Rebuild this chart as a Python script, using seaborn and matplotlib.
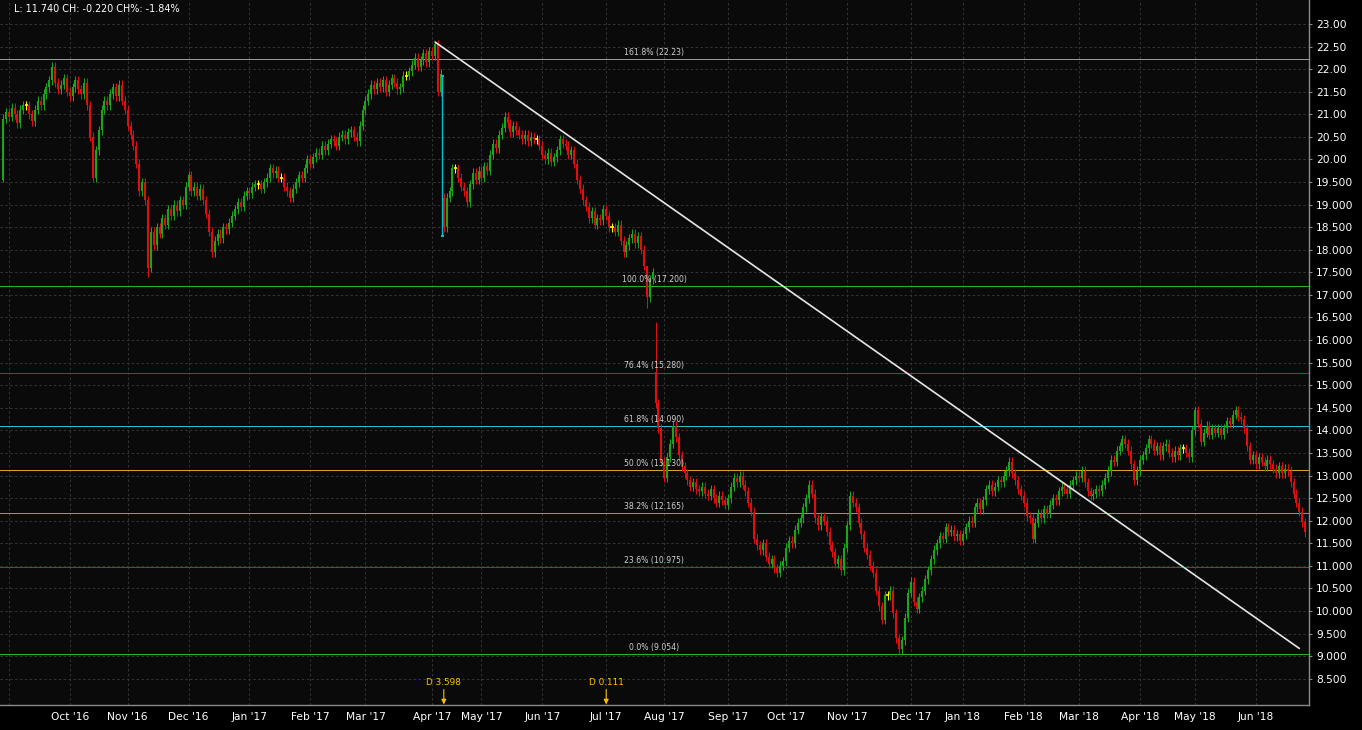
import numpy as np
import pandas as pd
import matplotlib
matplotlib.use("Agg")
import matplotlib.pyplot as plt
import seaborn as sns

# daily closes, Sep 2016 .. Jun 2018 (one value per trading day)
closes = [
    20.90, 21.05, 20.95, 21.15, 21.00, 20.80, 21.10, 21.20, 21.20, 21.00,
    20.85, 21.10, 21.30, 21.20, 21.45, 21.60, 21.75, 22.05, 21.70, 21.55,
    21.65, 21.80, 21.50, 21.40, 21.60, 21.75, 21.55, 21.45, 21.70, 21.20,
    20.50, 19.60, 20.20, 20.65, 21.10, 21.30, 21.20, 21.45, 21.60, 21.40,
    21.65, 21.30, 21.10, 20.75, 20.55, 20.30, 19.90, 19.30, 19.50, 19.10,
    17.60, 18.40, 18.10, 18.50, 18.35, 18.70, 18.55, 18.90, 18.75, 19.00,
    18.85, 19.10, 19.00, 19.40, 19.65, 19.30, 19.40, 19.20, 19.35, 19.10,
    18.80, 18.40, 17.95, 18.20, 18.35, 18.25, 18.50, 18.45, 18.60, 18.75,
    18.90, 19.05, 18.95, 19.20, 19.30, 19.25, 19.40, 19.45, 19.45, 19.35,
    19.50, 19.60, 19.80, 19.70, 19.75, 19.60, 19.60, 19.40, 19.30, 19.15,
    19.35, 19.50, 19.65, 19.60, 19.80, 20.00, 19.90, 20.05, 20.15, 20.10,
    20.30, 20.20, 20.35, 20.45, 20.40, 20.30, 20.50, 20.55, 20.45, 20.60,
    20.65, 20.50, 20.40, 20.75, 21.10, 21.30, 21.45, 21.65, 21.55, 21.70,
    21.60, 21.75, 21.50, 21.65, 21.80, 21.70, 21.55, 21.60, 21.85, 21.85,
    21.95, 22.10, 22.25, 22.05, 22.20, 22.35, 22.15, 22.40, 22.30, 22.55,
    21.50, 21.90, 18.50, 19.15, 19.30, 19.80, 19.80, 19.60, 19.40, 19.30,
    19.05, 19.45, 19.70, 19.55, 19.75, 19.60, 19.85, 19.75, 20.10, 20.35,
    20.25, 20.55, 20.70, 20.95, 20.80, 20.60, 20.75, 20.65, 20.55, 20.45,
    20.55, 20.40, 20.50, 20.45, 20.45, 20.30, 20.10, 20.00, 20.15, 19.95,
    20.05, 20.20, 20.45, 20.35, 20.30, 20.10, 20.20, 19.90, 19.55, 19.35,
    19.10, 18.95, 18.70, 18.85, 18.55, 18.70, 18.65, 18.90, 18.75, 18.50,
    18.50, 18.40, 18.55, 18.20, 17.95, 18.10, 18.25, 18.35, 18.15, 18.30,
    18.00, 17.65, 16.95, 17.35, 17.50, 14.60, 14.05, 13.30, 12.95, 13.40,
    13.70, 14.10, 13.85, 13.45, 13.20, 13.05, 12.90, 12.75, 12.85, 12.70,
    12.65, 12.75, 12.60, 12.55, 12.70, 12.50, 12.40, 12.55, 12.45, 12.35,
    12.50, 12.75, 12.95, 12.85, 13.00, 12.80, 12.65, 12.40, 12.20, 11.60,
    11.45, 11.35, 11.50, 11.20, 11.05, 11.15, 10.95, 10.85, 11.00, 11.10,
    11.40, 11.55, 11.50, 11.80, 11.95, 12.05, 12.30, 12.50, 12.80, 12.60,
    12.05, 11.90, 12.10, 12.00, 11.75, 11.45, 11.30, 11.05, 11.15, 10.90,
    11.40, 11.90, 12.55, 12.40, 12.30, 11.95, 11.70, 11.40, 11.25, 11.00,
    10.85, 10.45, 10.10, 9.80, 10.35, 10.35, 10.45, 9.95, 9.40, 9.15,
    9.35, 9.85, 10.40, 10.65, 10.20, 10.05, 10.30, 10.45, 10.70, 10.90,
    11.15, 11.35, 11.50, 11.65, 11.60, 11.85, 11.75, 11.80, 11.65, 11.70,
    11.55, 11.70, 11.85, 12.00, 11.95, 12.30, 12.40, 12.25, 12.45, 12.70,
    12.80, 12.65, 12.75, 12.90, 12.85, 13.00, 13.10, 13.30, 13.05, 12.90,
    12.70, 12.55, 12.40, 12.10, 12.05, 11.60, 11.95, 12.15, 12.05, 12.25,
    12.15, 12.35, 12.50, 12.45, 12.65, 12.75, 12.70, 12.60, 12.80, 12.90,
    13.00, 12.95, 13.10, 12.85, 12.65, 12.55, 12.60, 12.70, 12.65, 12.80,
    12.95, 13.10, 13.35, 13.30, 13.55, 13.65, 13.80, 13.70, 13.55, 13.25,
    12.90, 13.10, 13.35, 13.45, 13.60, 13.80, 13.70, 13.55, 13.65, 13.45,
    13.65, 13.70, 13.50, 13.40, 13.55, 13.45, 13.60, 13.60, 13.50, 13.40,
    14.00, 14.45, 14.15, 13.75, 13.95, 14.10, 13.90, 14.05, 13.95, 14.05,
    13.90, 14.05, 14.20, 14.15, 14.35, 14.45, 14.30, 14.25, 14.05, 13.65,
    13.35, 13.45, 13.25, 13.40, 13.30, 13.20, 13.35, 13.25, 13.15, 13.05,
    13.20, 13.05, 13.15, 13.10, 12.85, 12.60, 12.40, 12.20, 11.96, 11.74,
]
open_first = 19.55
open_gaps = {152: 19.15, 225: 15.30}
high_marks = {17: 22.15, 149: 22.62, 222: 17.45, 225: 16.40, 411: 14.52}
low_marks = {0: 19.50, 31: 19.50, 50: 17.40, 152: 18.40, 222: 16.70, 228: 12.85, 309: 9.054}
wick = 0.1

fib_levels = [22.23, 17.200, 15.280, 14.090, 13.130, 12.165, 10.975, 9.054]
fib_labels = ["161.8% (22.23)", "100.0% (17.200)", "76.4% (15.280)", "61.8% (14.090)",
              "50.0% (13.130)", "38.2% (12.165)", "23.6% (10.975)", "0.0% (9.054)"]
fib_colors = ["#9a9a9a", "#22b422", "#ff0000", "#20c4c8",
              "#d8a420", "#00ccd8", "#ff0000", "#22b422"]

month_pos = [2, 23, 43, 64, 85, 106, 125, 148, 165, 186, 208, 228, 250, 270,
             291, 313, 331, 352, 371, 392, 411, 432]
month_labels = ["", "Oct '16", "Nov '16", "Dec '16", "Jan '17", "Feb '17", "Mar '17",
                "Apr '17", "May '17", "Jun '17", "Jul '17", "Aug '17", "Sep '17",
                "Oct '17", "Nov '17", "Dec '17", "Jan '18", "Feb '18", "Mar '18",
                "Apr '18", "May '18", "Jun '18"]
price_ticks = [8.5, 9.0, 9.5, 10.0, 10.5, 11.0, 11.5, 12.0, 12.5, 13.0, 13.5, 14.0,
               14.5, 15.0, 15.5, 16.0, 16.5, 17.0, 17.5, 18.0, 18.5, 19.0, 19.5,
               20.0, 20.5, 21.0, 21.5, 22.0, 22.5, 23.0]

div_pos = [152, 208]
div_labels = ["D 3.598", "D 0.111"]
gap_pos, gap_top, gap_bottom = 151.5, 21.85, 18.31
trend_x = [149, 447]
trend_y = [22.60, 9.17]
header = "L: 11.740 CH: -0.220 CH%: -1.84%"

df = pd.DataFrame({"close": closes})
df["open"] = df["close"].shift(1)
df.loc[0, "open"] = open_first
for k, v in open_gaps.items():
    df.loc[k, "open"] = v
df["high"] = df[["open", "close"]].max(axis=1) + wick
df["low"] = df[["open", "close"]].min(axis=1) - wick
for k, v in high_marks.items():
    df.loc[k, "high"] = v
for k, v in low_marks.items():
    df.loc[k, "low"] = v
df["color"] = np.where(df["close"] > df["open"], "#1aa51a",
                       np.where(df["close"] < df["open"], "#dc1010", "#ffff00"))

sns.set_style("dark", {"axes.facecolor": "#0a0a0a", "figure.facecolor": "#000000"})
plt.rcParams["font.family"] = ["DejaVu Sans"]

fig = plt.figure(figsize=(13.62, 7.30), dpi=100)
ax = fig.add_axes([0, 1 - 705 / 730, 1309 / 1362, 705 / 730])
ax.set_facecolor("#0a0a0a")

ax.set_xlim(-1.03, 450.34)
ax.set_ylim(7.917, 23.532)

ax.set_yticks(price_ticks)
ax.set_yticklabels([f"{v:.2f}" if v >= 20 else f"{v:.3f}" for v in price_ticks])
ax.set_xticks(month_pos)
ax.set_xticklabels(month_labels)
ax.yaxis.tick_right()
ax.grid(True, color="#353535", ls=(0, (2.5, 2.5)), lw=0.7)
ax.tick_params(axis="y", colors="#8a8a8a", labelcolor="white", labelsize=7.7,
               length=2.5, pad=2.5, width=0.8)
ax.tick_params(axis="x", colors="#8a8a8a", labelcolor="white", labelsize=7.7,
               length=3, pad=2, width=0.8)
for s in ["left", "top"]:
    ax.spines[s].set_visible(False)
for s in ["right", "bottom"]:
    ax.spines[s].set_visible(True)
    ax.spines[s].set_color("#8a8a8a")
    ax.spines[s].set_linewidth(1.0)

# fibonacci levels
for lvl, lab, col in zip(fib_levels, fib_labels, fib_colors):
    ax.axhline(lvl, color=col, lw=0.72, zorder=2, antialiased=False)
    ax.annotate(lab, xy=(224.5, lvl), xytext=(0, 1.5), textcoords="offset points",
                ha="center", va="bottom", fontsize=5.6, color="#d0d0d0", zorder=5)

# candles
x = df.index.values
ax.vlines(x, df["low"], df["high"], colors=df["color"], lw=0.75, zorder=3)
ax.vlines(x, df["open"], df["close"], colors=df["color"], lw=1.5, zorder=3)
doji = df[df["close"] == df["open"]]
ax.hlines(doji["close"], doji.index - 0.55, doji.index + 0.55, colors="#ffff00", lw=1.2, zorder=4)

# dividend gap marker
ax.vlines(gap_pos, gap_bottom, gap_top, colors="#00c0d0", lw=1.0, zorder=4)
ax.hlines([gap_bottom, gap_top], gap_pos - 0.5, gap_pos + 0.5, colors="#00c0d0", lw=1.5, zorder=4)

# trend line
sns.lineplot(x=trend_x, y=trend_y, ax=ax, color="#e6e6e6", lw=1.2, zorder=4)

# dividend arrows
for p, lab in zip(div_pos, div_labels):
    ax.annotate("", xy=(p, 7.93), xytext=(p, 8.26),
                arrowprops=dict(arrowstyle="-|>", color="#ffc000", lw=0.8,
                                mutation_scale=7, shrinkA=0, shrinkB=0))
    ax.text(p, 8.31, lab, ha="center", va="bottom", fontsize=6.4, color="#ffc000")

fig.text(14 / 1362, 1 - 9 / 730, header, ha="left", va="center", fontsize=6.9, color="white")

fig.savefig("out.png", dpi=100, facecolor="#000000")
